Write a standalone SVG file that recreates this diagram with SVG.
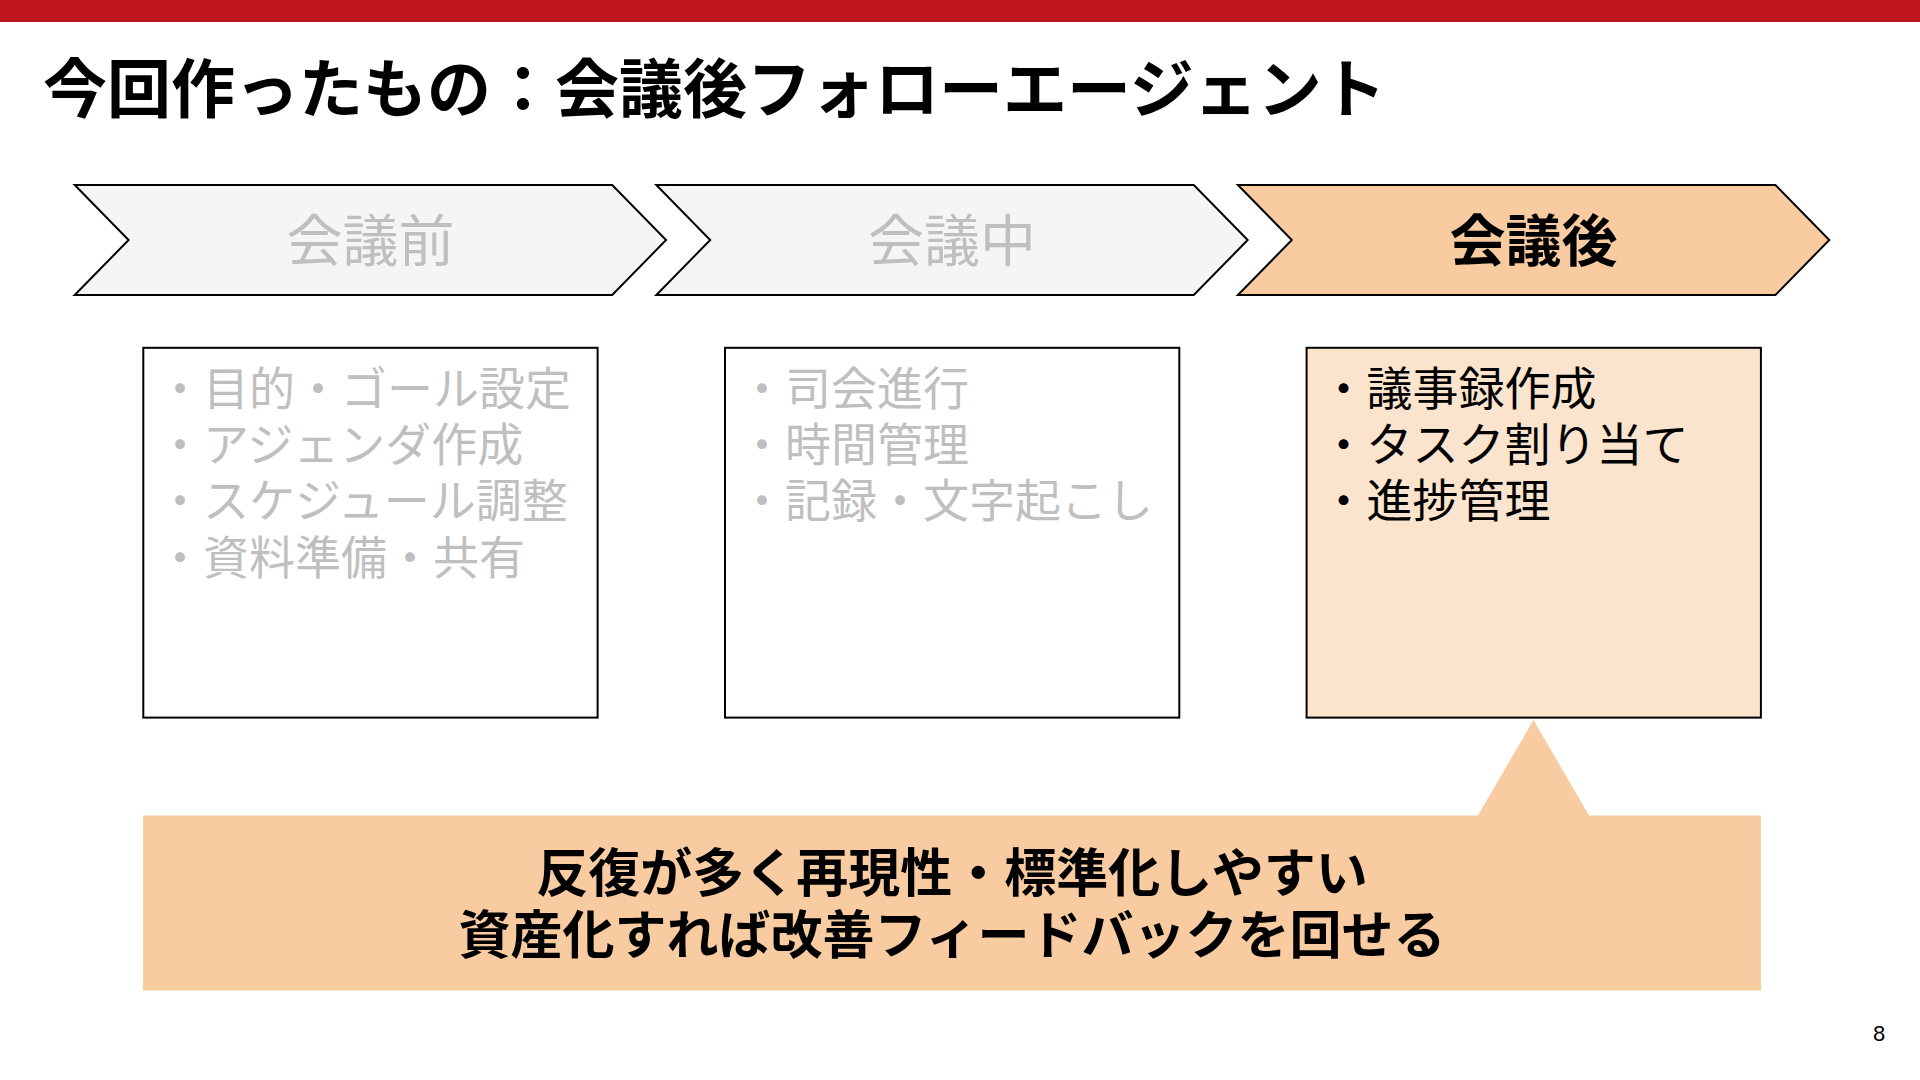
<svg xmlns="http://www.w3.org/2000/svg" width="1920" height="1080" viewBox="0 0 1920 1080">
<defs>
<style>
.jp{font-family:"Noto Sans CJK JP","Noto Sans",sans-serif;}
.chev{stroke:#000;stroke-width:2;stroke-linejoin:miter;}
.chev-off{fill:#F5F5F5;}
.chev-on{fill:#F8CBA0;}
.box{stroke:#000;stroke-width:2;}
.lbl{font-size:56px;text-anchor:middle;}
.item{font-size:46px;}
.gray{fill:#BFBFBF;}
.dark{fill:#000;}
</style>
</defs>
<rect id="topbar" x="0" y="0" width="1920" height="22" fill="#C0171F"/>
<text id="title" class="jp" x="43" y="112" font-size="64" font-weight="bold" fill="#000">今回作ったもの：会議後フォローエージェント</text>

<g id="chevron-before">
<polygon class="chev chev-off" points="74.7,185 612.2,185 666.1,240 612.2,295 74.7,295 128.6,240"/>
<text class="jp lbl gray" x="370.4" y="261">会議前</text>
</g>
<g id="chevron-during">
<polygon class="chev chev-off" points="656.3,185 1193.8,185 1247.7,240 1193.8,295 656.3,295 710.2,240"/>
<text class="jp lbl gray" x="952" y="261">会議中</text>
</g>
<g id="chevron-after">
<polygon class="chev chev-on" points="1237.9,185 1775.4,185 1829.3,240 1775.4,295 1237.9,295 1291.8,240"/>
<text class="jp lbl dark" x="1533.6" y="261" font-weight="bold">会議後</text>
</g>

<g id="box-before">
<rect class="box" x="143.3" y="347.8" width="454.3" height="369.8" fill="#FFFFFF"/>
<text class="jp item gray" x="157" y="405">・目的・ゴール設定</text>
<text class="jp item gray" x="157" y="461">・アジェンダ作成</text>
<text class="jp item gray" x="157" y="517">・スケジュール調整</text>
<text class="jp item gray" x="157" y="574">・資料準備・共有</text>
</g>
<g id="box-during">
<rect class="box" x="725" y="347.8" width="454.3" height="369.8" fill="#FFFFFF"/>
<text class="jp item gray" x="739" y="405">・司会進行</text>
<text class="jp item gray" x="739" y="461">・時間管理</text>
<text class="jp item gray" x="739" y="517">・記録・文字起こし</text>
</g>
<g id="box-after">
<rect class="box" x="1306.6" y="347.8" width="454.3" height="369.8" fill="#FBE4CE"/>
<text class="jp item dark" x="1320.6" y="405">・議事録作成</text>
<text class="jp item dark" x="1320.6" y="461">・タスク割り当て</text>
<text class="jp item dark" x="1320.6" y="517">・進捗管理</text>
</g>

<g id="callout">
<path d="M143,815.5 H1478 L1533.5,720 L1589,815.5 H1761 V990.6 H143 Z" fill="#F8CBA0"/>
<text class="jp" x="952" y="892" font-size="52" font-weight="bold" text-anchor="middle" fill="#000">反復が多く再現性・標準化しやすい</text>
<text class="jp" x="952" y="954" font-size="52" font-weight="bold" text-anchor="middle" fill="#000">資産化すれば改善フィードバックを回せる</text>
</g>

<g id="connectors"></g>

<text id="page-number" x="1879" y="1041" font-family="Liberation Sans, Arial, sans-serif" font-size="22" text-anchor="middle" fill="#000">8</text>
</svg>
